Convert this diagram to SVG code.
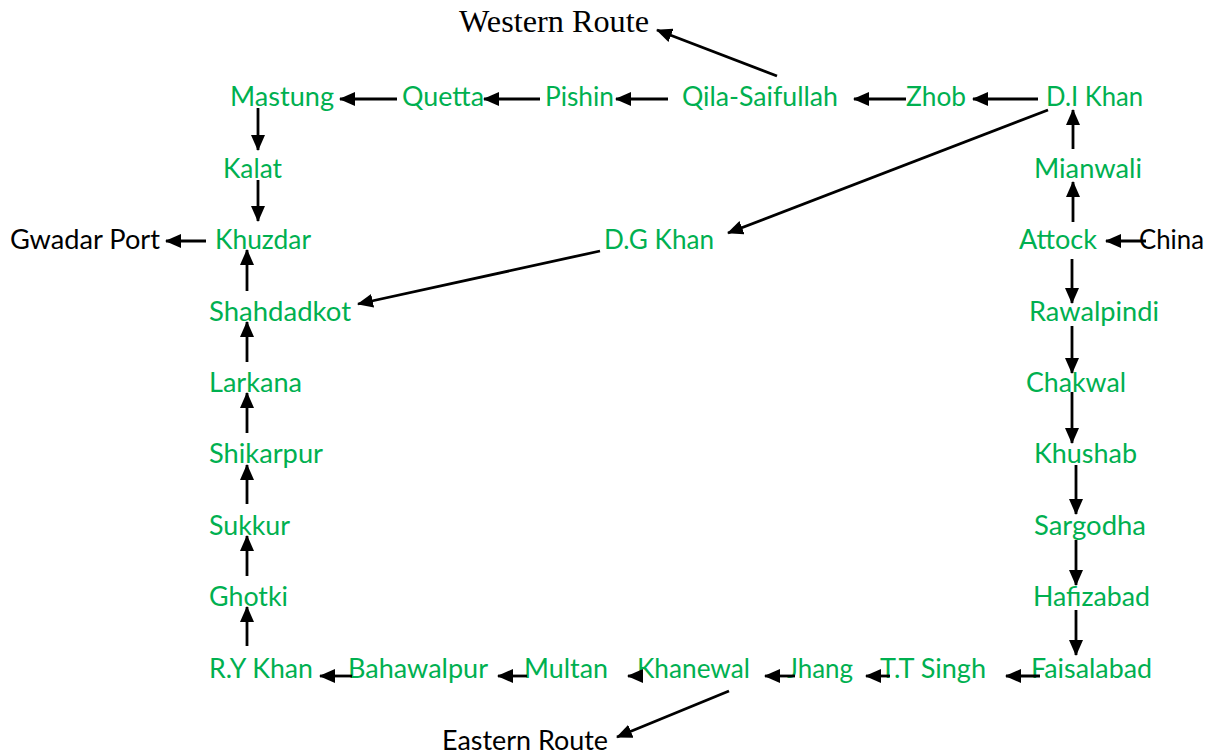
<svg xmlns="http://www.w3.org/2000/svg" width="1212" height="754" viewBox="0 0 1212 754">
<style>
.n{font-family:Lato,"Open Sans","Liberation Sans",sans-serif;font-size:27px;fill:#00B050}
.b{font-family:Lato,"Open Sans","Liberation Sans",sans-serif;font-size:27px;fill:#000}
.t{font-family:"Liberation Serif","Times New Roman",serif;font-size:31px;fill:#000}
.c line{stroke:#000;stroke-width:2.8;marker-end:url(#ah)}
</style>
<defs>
<marker id="ah" markerUnits="userSpaceOnUse" markerWidth="16" markerHeight="14" refX="15" refY="7" orient="auto">
<path d="M0,0 L16,7 L0,14 Z" fill="#000"/>
</marker>
</defs>
<rect width="1212" height="754" fill="#fff"/>
<g id="labels-outer">
<text id="western-route" class="t" x="459" y="32" textLength="190" lengthAdjust="spacingAndGlyphs">Western Route</text>
<text id="gwadar-port" class="b" x="10" y="249" textLength="150" lengthAdjust="spacingAndGlyphs">Gwadar Port</text>
<text id="china" class="b" x="1139" y="249" textLength="65" lengthAdjust="spacingAndGlyphs">China</text>
<text id="eastern-route" class="b" x="442" y="750" textLength="166" lengthAdjust="spacingAndGlyphs">Eastern Route</text>
</g>
<g id="mastung"><text class="n" x="230" y="106" textLength="104" lengthAdjust="spacingAndGlyphs">Mastung</text></g>
<g id="quetta"><text class="n" x="402" y="106" textLength="82" lengthAdjust="spacingAndGlyphs">Quetta</text></g>
<g id="pishin"><text class="n" x="545" y="106" textLength="69" lengthAdjust="spacingAndGlyphs">Pishin</text></g>
<g id="qila-saifullah"><text class="n" x="682" y="106" textLength="156" lengthAdjust="spacingAndGlyphs">Qila-Saifullah</text></g>
<g id="zhob"><text class="n" x="906" y="106" textLength="60" lengthAdjust="spacingAndGlyphs">Zhob</text></g>
<g id="di-khan"><text class="n" x="1046" y="106" textLength="97" lengthAdjust="spacingAndGlyphs">D.I Khan</text></g>
<g id="kalat"><text class="n" x="223" y="178" textLength="59" lengthAdjust="spacingAndGlyphs">Kalat</text></g>
<g id="mianwali"><text class="n" x="1034" y="178" textLength="108" lengthAdjust="spacingAndGlyphs">Mianwali</text></g>
<g id="khuzdar"><text class="n" x="215" y="249" textLength="96" lengthAdjust="spacingAndGlyphs">Khuzdar</text></g>
<g id="dg-khan"><text class="n" x="604" y="249" textLength="110" lengthAdjust="spacingAndGlyphs">D.G Khan</text></g>
<g id="attock"><text class="n" x="1019" y="249" textLength="78" lengthAdjust="spacingAndGlyphs">Attock</text></g>
<g id="shahdadkot"><text class="n" x="209" y="321" textLength="142" lengthAdjust="spacingAndGlyphs">Shahdadkot</text></g>
<g id="rawalpindi"><text class="n" x="1029" y="321" textLength="130" lengthAdjust="spacingAndGlyphs">Rawalpindi</text></g>
<g id="larkana"><text class="n" x="209" y="392" textLength="93" lengthAdjust="spacingAndGlyphs">Larkana</text></g>
<g id="chakwal"><text class="n" x="1026" y="392" textLength="100" lengthAdjust="spacingAndGlyphs">Chakwal</text></g>
<g id="shikarpur"><text class="n" x="209" y="463" textLength="114" lengthAdjust="spacingAndGlyphs">Shikarpur</text></g>
<g id="khushab"><text class="n" x="1034" y="463" textLength="103" lengthAdjust="spacingAndGlyphs">Khushab</text></g>
<g id="sukkur"><text class="n" x="209" y="535" textLength="81" lengthAdjust="spacingAndGlyphs">Sukkur</text></g>
<g id="sargodha"><text class="n" x="1034" y="535" textLength="112" lengthAdjust="spacingAndGlyphs">Sargodha</text></g>
<g id="ghotki"><text class="n" x="209" y="606" textLength="79" lengthAdjust="spacingAndGlyphs">Ghotki</text></g>
<g id="hafizabad"><text class="n" x="1033" y="606" textLength="117" lengthAdjust="spacingAndGlyphs">Hafizabad</text></g>
<g id="ry-khan"><text class="n" x="209" y="678" textLength="104" lengthAdjust="spacingAndGlyphs">R.Y Khan</text></g>
<g id="bahawalpur"><text class="n" x="348" y="678" textLength="140" lengthAdjust="spacingAndGlyphs">Bahawalpur</text></g>
<g id="multan"><text class="n" x="524" y="678" textLength="84" lengthAdjust="spacingAndGlyphs">Multan</text></g>
<g id="khanewal"><text class="n" x="637" y="678" textLength="113" lengthAdjust="spacingAndGlyphs">Khanewal</text></g>
<g id="jhang"><text class="n" x="787" y="678" textLength="66" lengthAdjust="spacingAndGlyphs">Jhang</text></g>
<g id="tt-singh"><text class="n" x="880" y="678" textLength="106" lengthAdjust="spacingAndGlyphs">T.T Singh</text></g>
<g id="faisalabad"><text class="n" x="1031" y="678" textLength="121" lengthAdjust="spacingAndGlyphs">Faisalabad</text></g>
<g id="connectors" class="c">
<line x1="777" y1="76" x2="657" y2="30"/>
<line x1="397" y1="99" x2="340" y2="99"/>
<line x1="540" y1="99" x2="484" y2="99"/>
<line x1="668" y1="99" x2="616" y2="99"/>
<line x1="906" y1="99" x2="854" y2="99"/>
<line x1="1038" y1="99" x2="973" y2="99"/>
<line x1="1048" y1="110" x2="728" y2="233"/>
<line x1="258" y1="108" x2="258" y2="150"/>
<line x1="258" y1="180" x2="258" y2="221"/>
<line x1="206" y1="241" x2="166" y2="241"/>
<line x1="247" y1="291" x2="247" y2="250"/>
<line x1="600" y1="251" x2="358" y2="304"/>
<line x1="247" y1="362" x2="247" y2="322"/>
<line x1="247" y1="433" x2="247" y2="393"/>
<line x1="247" y1="504" x2="247" y2="465"/>
<line x1="247" y1="576" x2="247" y2="536"/>
<line x1="247" y1="646" x2="247" y2="607"/>
<line x1="1073" y1="149" x2="1073" y2="110"/>
<line x1="1073" y1="222" x2="1073" y2="182"/>
<line x1="1146" y1="241" x2="1106" y2="241"/>
<line x1="1072" y1="259" x2="1072" y2="303"/>
<line x1="1072" y1="326" x2="1072" y2="373"/>
<line x1="1072" y1="392" x2="1072" y2="443"/>
<line x1="1076" y1="465" x2="1076" y2="514"/>
<line x1="1076" y1="540" x2="1076" y2="585"/>
<line x1="1076" y1="610" x2="1076" y2="655"/>
<line x1="1040" y1="676" x2="1006" y2="676"/>
<line x1="890" y1="676" x2="866" y2="676"/>
<line x1="795" y1="676" x2="765" y2="676"/>
<line x1="642" y1="676" x2="628" y2="676"/>
<line x1="527" y1="676" x2="498" y2="676"/>
<line x1="352" y1="676" x2="320" y2="676"/>
<line x1="729" y1="691" x2="617" y2="737"/>
</g>
</svg>
